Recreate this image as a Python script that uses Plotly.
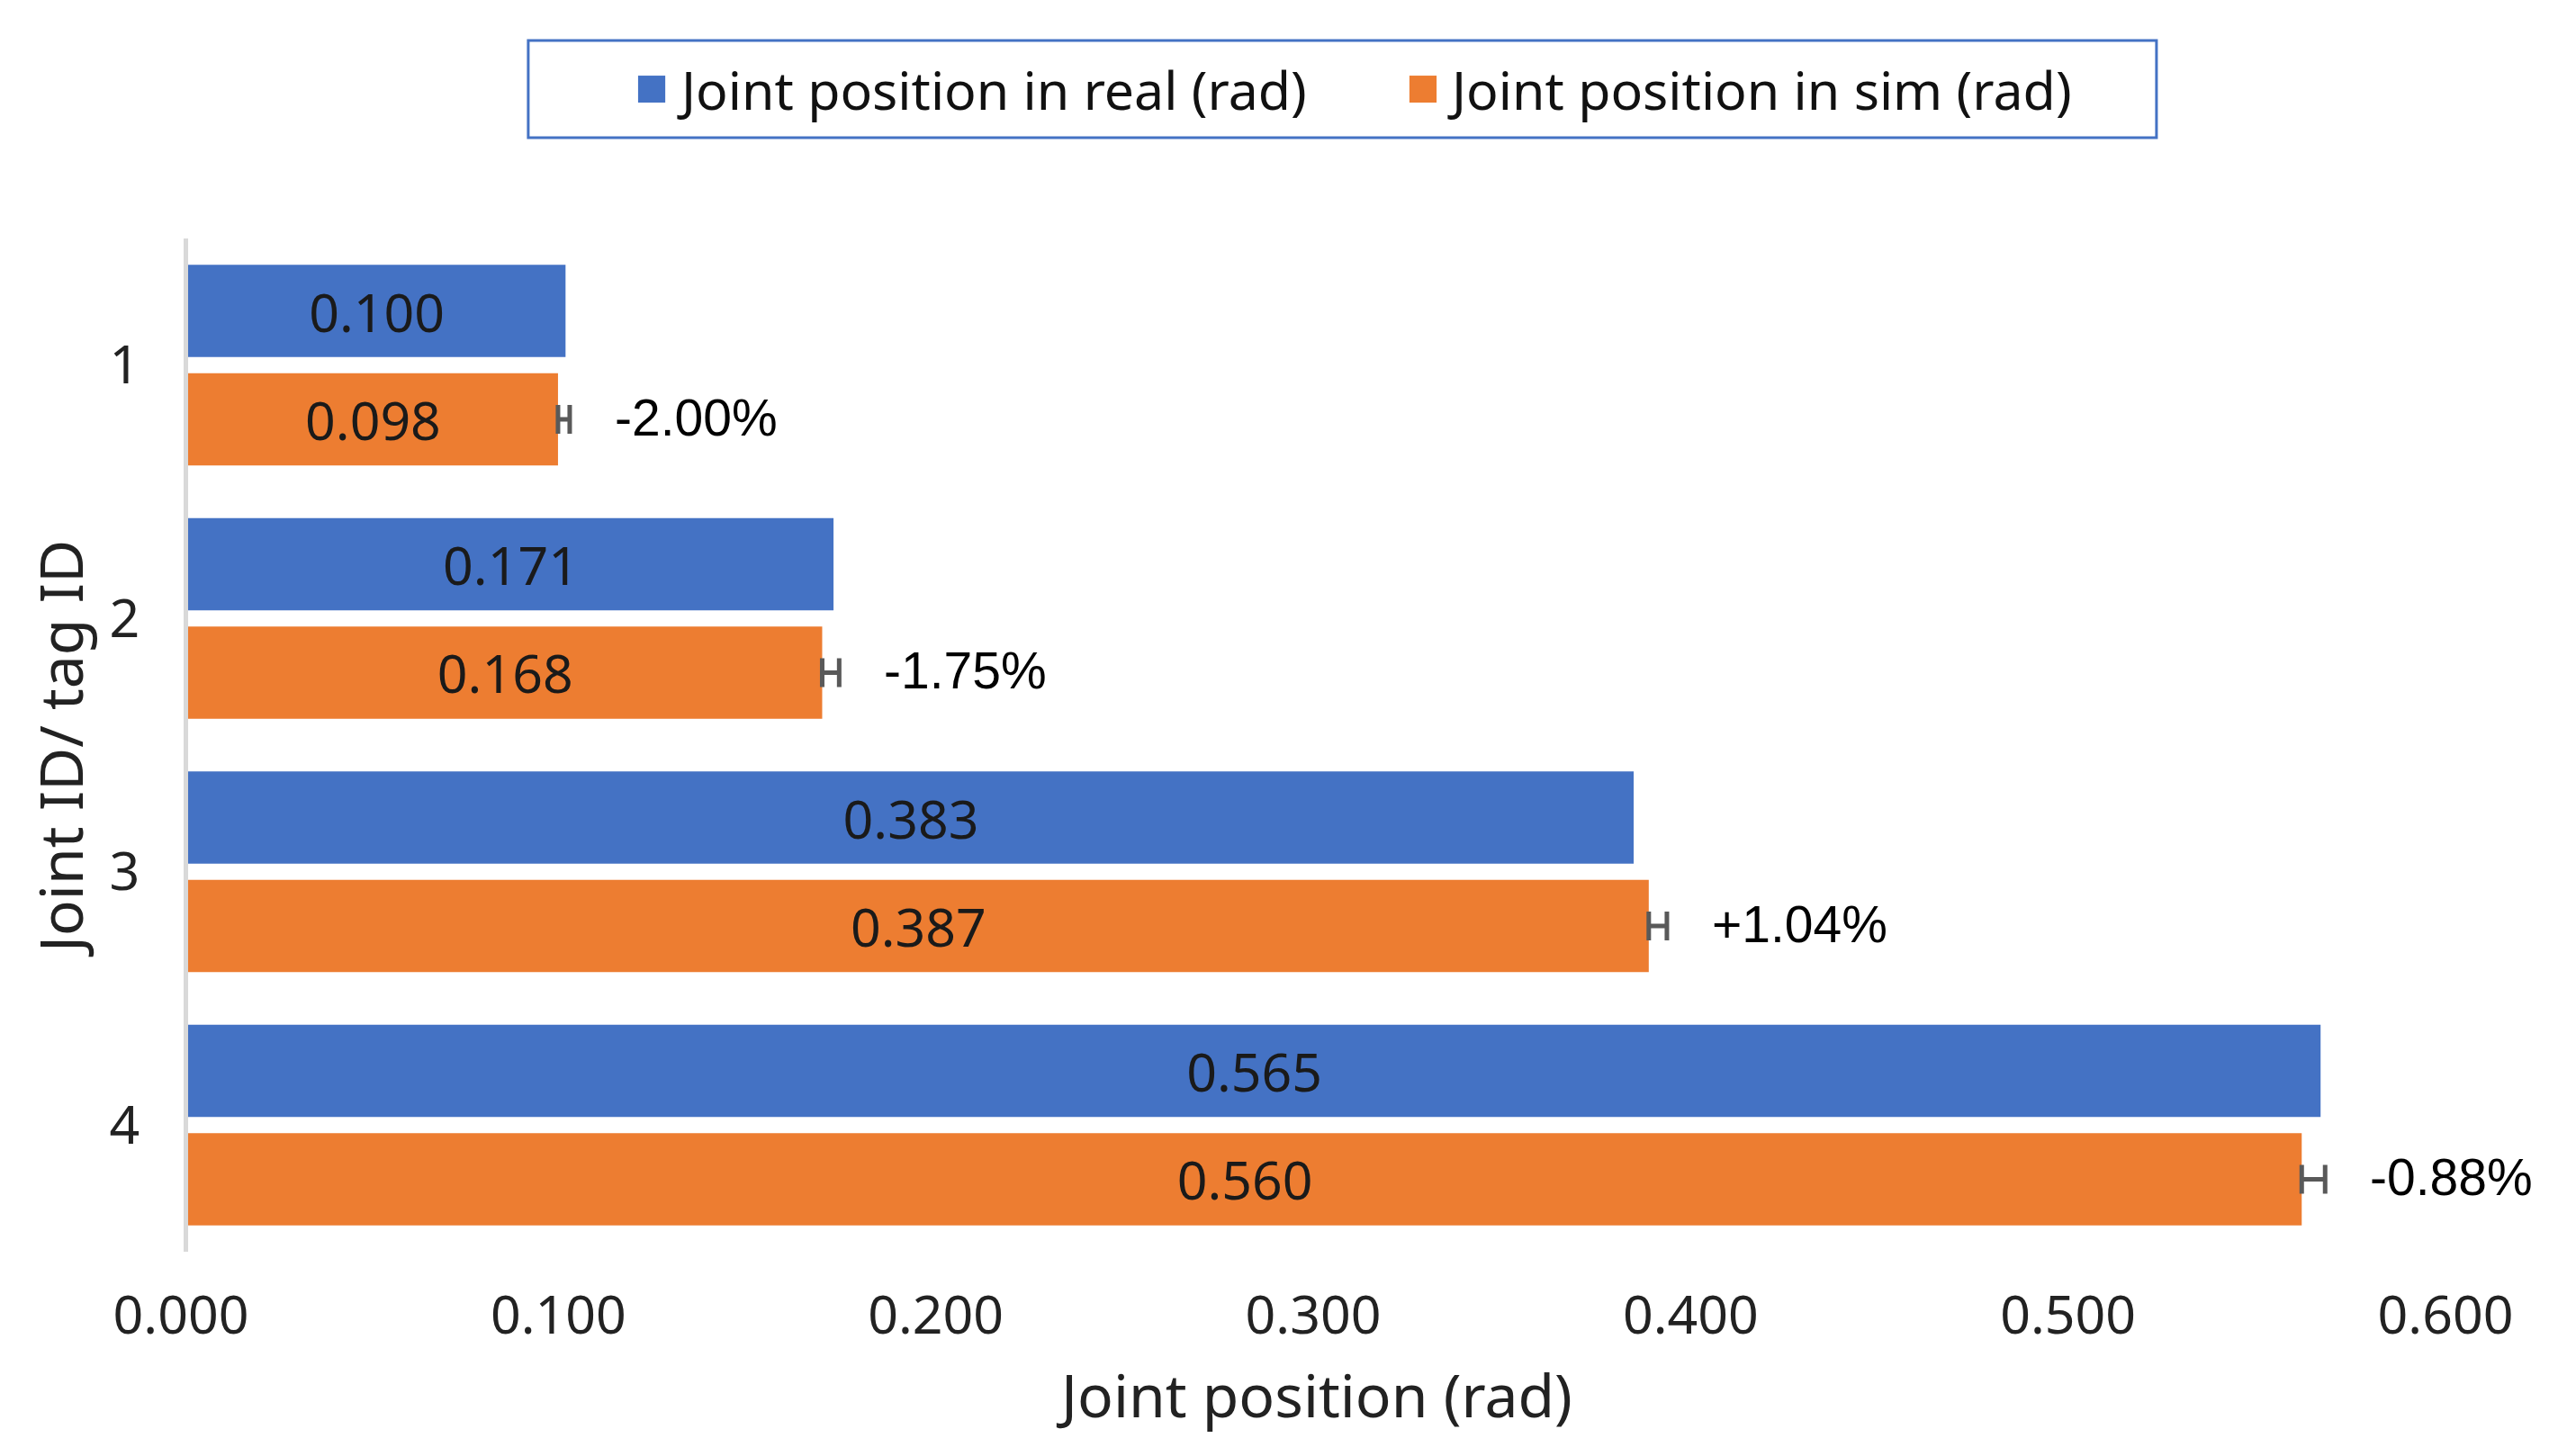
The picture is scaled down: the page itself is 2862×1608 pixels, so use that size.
import plotly.graph_objects as go

joint_ids = [1, 2, 3, 4]
real_vals = [0.100, 0.171, 0.383, 0.565]
sim_vals = [0.098, 0.168, 0.387, 0.560]
sim_err_plus = [0.0031, 0.0045, 0.0048, 0.0062]
sim_err_minus = [0.0, 0.0, 0.0, 0.0]
diff_labels = ["-2.00%", "-1.75%", "+1.04%", "-0.88%"]
x_ticks = [0.0, 0.1, 0.2, 0.3, 0.4, 0.5, 0.6]
x_tick_text = ["0.000", "0.100", "0.200", "0.300", "0.400", "0.500", "0.600"]
series_names = ["Joint position in real (rad)", "Joint position in sim (rad)"]

BLUE = "#4472C4"
ORANGE = "#ED7D31"
FONT = "Noto Sans"

fig = go.Figure()
fig.add_trace(go.Bar(
    name=series_names[0], orientation="h",
    y=joint_ids, x=real_vals, marker=dict(color=BLUE, line=dict(width=0)),
    text=[f"{v:.3f}" for v in real_vals], textposition="inside",
    insidetextanchor="middle", textangle=0, constraintext="none",
    textfont=dict(family=FONT, size=59, color="#1a1a1a"),
))
fig.add_trace(go.Bar(
    name=series_names[1], orientation="h",
    y=joint_ids, x=sim_vals, marker=dict(color=ORANGE, line=dict(width=0)),
    text=[f"{v:.3f}" for v in sim_vals], textposition="inside",
    insidetextanchor="middle", textangle=0, constraintext="none",
    textfont=dict(family=FONT, size=59, color="#1a1a1a"),
    error_x=dict(type="data", symmetric=False, array=sim_err_plus,
                 arrayminus=sim_err_minus, color="#595959",
                 thickness=5, width=16),
))

for j, s, e, lab in zip(joint_ids, sim_vals, sim_err_plus, diff_labels):
    fig.add_annotation(x=s + e, y=j, xref="x", yref="y", text=lab,
                       showarrow=False, xanchor="left", yanchor="middle",
                       xshift=48, yshift=-58,
                       font=dict(family="Liberation Sans", size=57, color="#000000"))

# axis titles
fig.add_annotation(x=0.4974, y=-0.140, xref="paper", yref="paper",
                   text="Joint position (rad)", showarrow=False,
                   xanchor="center", yanchor="middle",
                   font=dict(family=FONT, size=66, color="#222222"))
fig.add_annotation(x=-0.0570, y=0.496, xref="paper", yref="paper",
                   text="Joint ID/ tag ID", showarrow=False, textangle=-90,
                   xanchor="center", yanchor="middle",
                   font=dict(family=FONT, size=66, color="#222222"))

# legend (box, swatches, labels)
fig.add_shape(type="rect", xref="paper", yref="paper",
              x0=0.1502, x1=0.8692, y0=1.0995, y1=1.1954,
              line=dict(color=BLUE, width=3), fillcolor="white")
swatches = [(0.1987, 0.2107, BLUE), (0.5393, 0.5513, ORANGE)]
text_x = [0.2150, 0.5552]
for (sx0, sx1, col), tx, nm in zip(swatches, text_x, series_names):
    fig.add_shape(type="rect", xref="paper", yref="paper",
                  x0=sx0, x1=sx1, y0=1.1341, y1=1.1607,
                  line=dict(width=0), fillcolor=col)
    fig.add_annotation(x=tx, y=1.1474, xref="paper", yref="paper", text=nm,
                       showarrow=False, xanchor="left", yanchor="middle",
                       font=dict(family=FONT, size=59, color="#111111"))

# the page body adds an 8px margin, so the figure is 8px smaller and margins compensate
fig.update_layout(
    width=2854, height=1600,
    paper_bgcolor="white", plot_bgcolor="white",
    margin=dict(l=201, r=137, t=257, b=217, autoexpand=False),
    barmode="group", bargap=0.144, bargroupgap=0.1495,
    font=dict(family=FONT, size=59, color="#222222"),
    showlegend=False,
    xaxis=dict(range=[0, 0.6], tickvals=x_ticks, ticktext=x_tick_text,
               showgrid=False, zeroline=False, showline=False,
               tickfont=dict(family=FONT, size=59, color="#222222"),
               ticks="", ticklabelstandoff=31, ticklabelshift=-8),
    yaxis=dict(range=[4.5, 0.5], tickvals=joint_ids,
               ticktext=[str(j) for j in joint_ids],
               showgrid=False, zeroline=False, showline=True,
               linecolor="#D9D9D9", linewidth=5,
               tickfont=dict(family=FONT, size=59, color="#222222"),
               ticks="", ticklabelstandoff=37),
)

fig.write_html("out.html")
